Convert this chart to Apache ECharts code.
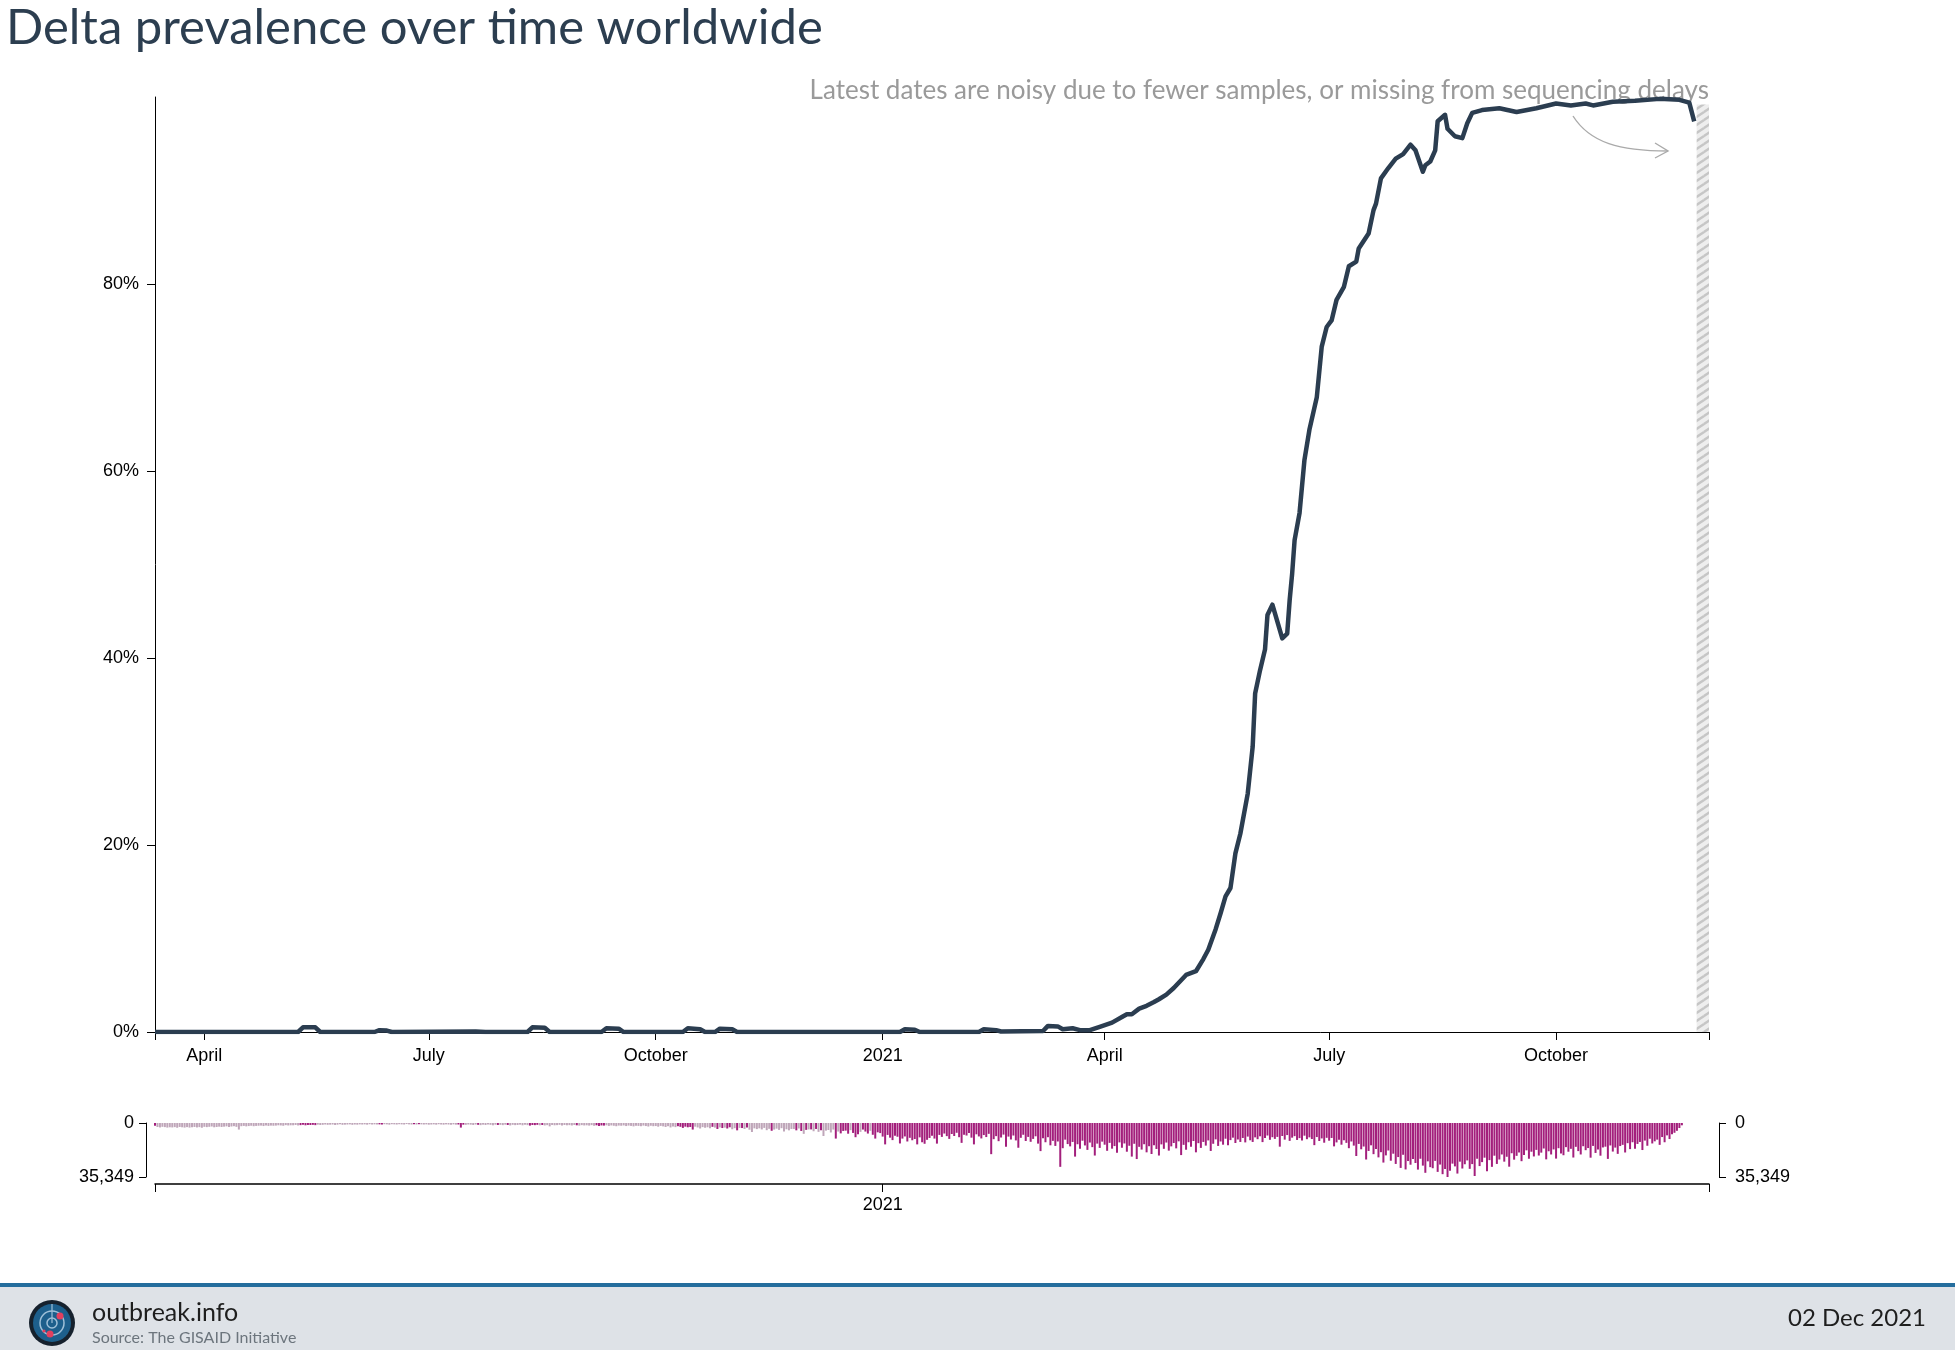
<!DOCTYPE html>
<html>
<head>
<meta charset="utf-8">
<title>Delta prevalence over time worldwide</title>
<script src="https://cdn.jsdelivr.net/npm/echarts@6/dist/echarts.min.js"></script>
<style>
  html, body { margin: 0; padding: 0; background: #fff; }
  #chart { width: 1955px; height: 1350px; }
</style>
</head>
<body>
<div id="chart"></div>
<script>
// axis range and the hatched "latest dates" band
const xStart = '2020-03-12';
const xEnd = '2021-12-02';
const noisyFrom = '2021-11-27';

// quarter ticks on the date axes
const tickDates = ['2020-04-01', '2020-07-01', '2020-10-01', '2021-01-01', '2021-04-01', '2021-07-01', '2021-10-01'];
const tickNames = ['April', 'July', 'October', '2021', 'April', 'July', 'October'];
const pctTicks = [0, 20, 40, 60, 80];

// delta prevalence (%)
const prevDates = [
  '2020-03-12', '2020-05-09', '2020-05-11', '2020-05-16', '2020-05-18', '2020-06-09', '2020-06-11', '2020-06-14', '2020-06-16',
  '2020-07-20', '2020-07-24', '2020-08-10', '2020-08-12', '2020-08-17', '2020-08-19', '2020-09-09', '2020-09-11', '2020-09-16',
  '2020-09-18', '2020-10-12', '2020-10-14', '2020-10-19', '2020-10-21', '2020-10-25', '2020-10-27', '2020-11-01', '2020-11-03',
  '2021-01-08', '2021-01-10', '2021-01-14', '2021-01-16', '2021-02-09', '2021-02-11', '2021-02-16', '2021-02-18', '2021-03-07',
  '2021-03-09', '2021-03-13', '2021-03-15', '2021-03-19', '2021-03-22', '2021-03-26', '2021-03-30', '2021-04-04', '2021-04-08',
  '2021-04-10', '2021-04-12', '2021-04-15', '2021-04-18', '2021-04-21', '2021-04-23', '2021-04-26', '2021-04-29', '2021-05-04',
  '2021-05-08', '2021-05-11', '2021-05-13', '2021-05-16', '2021-05-18', '2021-05-20', '2021-05-22', '2021-05-24', '2021-05-26',
  '2021-05-29', '2021-05-31', '2021-06-01', '2021-06-03', '2021-06-05', '2021-06-06', '2021-06-08', '2021-06-12', '2021-06-14',
  '2021-06-15', '2021-06-16', '2021-06-17', '2021-06-19', '2021-06-21', '2021-06-23', '2021-06-26', '2021-06-28', '2021-06-30',
  '2021-07-02', '2021-07-04', '2021-07-07', '2021-07-09', '2021-07-12', '2021-07-13', '2021-07-17', '2021-07-19', '2021-07-20',
  '2021-07-22', '2021-07-25', '2021-07-28', '2021-07-31', '2021-08-03', '2021-08-05', '2021-08-08', '2021-08-09', '2021-08-11',
  '2021-08-13', '2021-08-14', '2021-08-17', '2021-08-18', '2021-08-21', '2021-08-24', '2021-08-26', '2021-08-28', '2021-09-01',
  '2021-09-08', '2021-09-15', '2021-09-23', '2021-10-01', '2021-10-07', '2021-10-13', '2021-10-16', '2021-10-24', '2021-11-02',
  '2021-11-12', '2021-11-20', '2021-11-24', '2021-11-26'
];
const prevValues = [
  0, 0, 0.5, 0.5, 0, 0, 0.2, 0.15, 0,
  0.05, 0, 0, 0.5, 0.45, 0, 0, 0.4, 0.35,
  0, 0, 0.4, 0.3, 0, 0, 0.35, 0.3, 0,
  0, 0.3, 0.25, 0, 0, 0.3, 0.2, 0.05, 0.1,
  0.65, 0.6, 0.3, 0.4, 0.2, 0.2, 0.55, 1.0, 1.6,
  1.9, 1.9, 2.5, 2.8, 3.2, 3.5, 4.0, 4.7, 6.1,
  6.5, 7.8, 8.8, 11.0, 12.7, 14.5, 15.4, 19.1, 21.2,
  25.5, 30.5, 36.2, 38.7, 40.9, 44.6, 45.7, 42.1, 42.6,
  46.2, 49.0, 52.6, 55.5, 61.2, 64.4, 67.9, 73.3, 75.4,
  76.1, 78.3, 79.7, 81.9, 82.4, 83.8, 85.4, 87.9, 88.6,
  91.3, 92.4, 93.4, 93.9, 94.9, 94.3, 92.0, 92.7, 93.1,
  94.3, 97.4, 98.1, 96.6, 95.8, 95.6, 97.2, 98.3, 98.6,
  98.8, 98.4, 98.8, 99.3, 99.1, 99.3, 99.1, 99.5, 99.6,
  99.8, 99.7, 99.4, 97.4
];

// sequences per day, one value per day from countStart
const countStart = '2020-03-12';
const countMax = 35349;
const dailyCounts = [
  1800, 2600, 2900, 2500, 2700, 3000, 2800,
  2900, 2700, 3100, 2600, 2800, 3000, 2700,
  3000, 2800, 2600, 2900, 2700, 3100, 2500,
  2700, 2500, 2300, 2800, 2600, 2400, 2600,
  2400, 2200, 2600, 2300, 2100, 2500, 4300,
  2100, 1900, 2200, 2000, 1800, 2100, 1900,
  1800, 1700, 2000, 1600, 1900, 1700, 1800,
  1700, 1500, 1600, 1800, 1400, 1600, 1500,
  1500, 1300, 1600, 1400, 1200, 1500, 1300,
  1300, 1200, 1400, 1100, 1300, 1200, 1000,
  1200, 1100, 1000, 1300, 1100, 900, 1200,
  1100, 1000, 900, 1200, 1000, 1100, 900,
  1000, 900, 1100, 800, 1000, 900, 1000,
  900, 1000, 800, 900, 1100, 800, 900,
  1000, 800, 900, 1000, 700, 900, 1000,
  900, 1000, 800, 900, 1000, 900, 1100,
  1000, 900, 1100, 800, 1000, 1100, 900,
  1000, 1200, 900, 1100, 1000, 3000, 1100,
  1200, 1000, 1100, 1300, 1000, 1200, 1400,
  1100, 1300, 1000, 1200, 1500, 1100, 1300,
  1200, 1400, 1100, 1300, 1600, 1200, 1400,
  1300, 1100, 1500, 1200, 1400, 1700, 1300,
  1400, 1200, 1500, 1300, 1600, 1400, 2200,
  1300, 1500, 1400, 1200, 1600, 1300, 1500,
  1400, 1600, 1300, 1500, 1700, 1400, 1600,
  1500, 1700, 1400, 1800, 1500, 2000, 1600,
  1700, 1500, 1900, 1600, 1800, 2100, 1700,
  1800, 1600, 2000, 1700, 1900, 2200, 1800,
  1900, 2100, 1700, 2000, 2300, 1800, 2100,
  2000, 2400, 1900, 2200, 2600, 2100, 2900,
  2300, 2700, 2100, 2500, 3200, 2400, 2800,
  2600, 4300, 2400, 2900, 3600, 2700, 3100,
  2800, 3400, 2500, 3000, 3900, 2900, 3300,
  3000, 3600, 2800, 4100, 3400, 4800, 3200,
  3300, 3900, 3000, 4400, 5900, 3500, 4000,
  3500, 4200, 3200, 4700, 3800, 5100, 4300,
  3700, 4500, 3400, 5500, 4100, 4800, 3900,
  3900, 4800, 3600, 5200, 7100, 4500, 4200,
  4200, 5400, 3900, 5800, 4700, 8500, 5000,
  4600, 6200, 4300, 10200, 5600, 6800, 5200,
  5000, 7000, 4700, 6500, 9300, 7400, 5800,
  4300, 5600, 6900, 5100, 7700, 10200, 6100,
  6600, 8900, 14000, 7800, 9600, 11200, 8300,
  9000, 13400, 10200, 8800, 12100, 9700, 11300,
  10500, 14000, 9400, 12600, 13600, 11000, 9800,
  8400, 10200, 13500, 7800, 9100, 6900, 8600,
  10400, 7200, 8500, 6400, 9300, 13000, 7700,
  8200, 6500, 9600, 14000, 7400, 8800, 10100,
  7900, 9200, 7100, 20400, 10600, 8600, 11900,
  9500, 7600, 15500, 8900, 10800, 8200, 11400,
  16200, 9700, 7700, 11800, 9100, 12300, 10400,
  8700, 13500, 18400, 10000, 12600, 9300, 14600,
  11700, 15000, 12100, 28700, 16500, 10900, 13800,
  15300, 12400, 22000, 13900, 16900, 11600, 14700,
  17600, 12800, 15800, 21300, 13500, 16300, 12200,
  14200, 18200, 13000, 16800, 15100, 19400, 12700,
  16200, 13400, 18800, 14900, 22000, 13600, 23600,
  15600, 17400, 13900, 19200, 15200, 20300, 14500,
  17000, 21300, 14000, 16900, 12800, 18100, 15300,
  13100, 16600, 12000, 21000, 14300, 17500, 12600,
  15500, 11800, 19200, 13200, 16300, 12400, 14800,
  11400, 18300, 13600, 10700, 15000, 12100, 14200,
  10300, 14500, 11200, 9600, 13100, 10800, 12400,
  9800, 12700, 8900, 11300, 12400, 9400, 10600,
  8700, 12500, 9800, 8200, 11000, 9300, 10400,
  9100, 15500, 8500, 10900, 7900, 11700, 9600,
  8600, 11100, 9900, 11400, 8300, 10600, 9400,
  10500, 14500, 9200, 11800, 10100, 12900, 9700,
  11600, 9800, 15300, 12700, 10900, 14200, 11300,
  13000, 16500, 12100, 14800, 21600, 13700, 17200,
  15400, 23900, 18300, 14600, 20400, 17100, 22500,
  19100, 25900, 21200, 18000, 24700, 20100, 26800,
  22300, 29400, 20800, 30400, 24900, 27300, 23600,
  26200, 30500, 23400, 27900, 32600, 25100, 28900,
  29600, 24800, 32000, 27200, 33500, 30100, 35349,
  31200, 26600, 28400, 33100, 25300, 29800, 27000,
  24500, 30000, 26900, 34700, 23400, 28200, 25600,
  22700, 31600, 24300, 28700, 21400, 26800, 23900,
  20600, 25300, 22100, 28600, 19800, 24000, 21500,
  19300, 25000, 20900, 17900, 23400, 18800, 21900,
  17600, 21300, 19400, 16700, 23800, 18500, 20600,
  17300, 23300, 16500, 19900, 21100, 15800, 18800,
  16900, 22600, 15600, 18400, 20600, 15200, 17800,
  16400, 22700, 15000, 19600, 17300, 21400, 16000,
  15500, 23500, 14700, 18700, 16100, 20200, 15100,
  14300, 19300, 13200, 17100, 12600, 16800, 13700,
  12400, 17700, 11500, 14900, 10300, 13400, 12000,
  10900, 14300, 9200, 12600, 8100, 10500, 7300,
  6400, 5100, 3300, 1500
];
// day indexes (into dailyCounts) drawn in magenta before every day is
const detectedDays = [0, 59, 60, 61, 62, 63, 64, 65, 91, 92, 105, 107, 123, 124, 125, 131, 139, 143, 152, 153, 154,
  155, 157, 171, 179, 180, 181, 182, 212, 213, 214, 215, 216, 217, 218, 226, 228, 230, 232, 233, 236, 238, 240,
  250, 260, 262, 264, 266, 268, 270, 276, 278, 279, 280, 281, 283, 284, 285, 287, 288, 289];
const detectedEveryDayFrom = 291;

// local-time timestamp from 'YYYY-MM-DD'
function ts(s) {
  const p = s.split('-');
  return new Date(+p[0], +p[1] - 1, +p[2]).getTime();
}

const tickTs = tickDates.map(ts);
const tickLabel = {};
tickTs.forEach((t, i) => { tickLabel[t] = tickNames[i]; });

const lineData = prevDates.map((d, i) => [ts(d), prevValues[i]]);

const startDay = new Date(ts(countStart));
const barData = dailyCounts.map((v, i) => {
  const d = new Date(startDay.getFullYear(), startDay.getMonth(), startDay.getDate() + i);
  const on = i >= detectedEveryDayFrom || detectedDays.indexOf(i) >= 0;
  return { value: [d.getTime(), v], itemStyle: { color: on ? '#a31f7c' : '#bfa6b9' } };
});

// diagonal hatch for the noisy band
const hatch = document.createElement('canvas');
hatch.width = 12;
hatch.height = 8;
const hc = hatch.getContext('2d');
hc.fillStyle = '#eeeeee';
hc.fillRect(0, 0, 12, 8);
hc.strokeStyle = '#c6c6c6';
hc.lineWidth = 2.4;
hc.beginPath();
[-12, 0, 12].forEach(dx => {
  [-8, 0, 8].forEach(dy => {
    hc.moveTo(dx, dy + 8);
    hc.lineTo(dx + 12, dy);
  });
});
hc.stroke();

const tickFont = { fontFamily: 'Liberation Sans, Arial, sans-serif', fontSize: 18, color: '#000' };
const black = { color: '#000', width: 1 };

const chart = echarts.init(document.getElementById('chart'));
chart.setOption({
  animation: false,
  backgroundColor: '#fff',
  grid: [
    { left: 155, right: 246, top: 97, bottom: 318 },
    { left: 155, right: 246, top: 1123, height: 54 }
  ],
  xAxis: [
    {
      type: 'value', gridIndex: 0, min: ts(xStart), max: ts(xEnd), scale: true,
      axisLine: { show: true, onZero: false, lineStyle: black },
      axisTick: { show: true, length: 8, lineStyle: black, customValues: [ts(xStart)].concat(tickTs, [ts(xEnd)]) },
      axisLabel: Object.assign({ margin: 15, customValues: tickTs, formatter: v => tickLabel[Math.round(v)] || '' }, tickFont),
      splitLine: { show: false }
    },
    {
      type: 'value', gridIndex: 1, min: ts(xStart), max: ts(xEnd), scale: true, offset: 7,
      axisLine: { show: true, onZero: false, lineStyle: { color: '#000', width: 1.5 } },
      axisTick: { show: true, length: 8, lineStyle: black, customValues: [ts(xStart), ts('2021-01-01'), ts(xEnd)] },
      axisLabel: Object.assign({ margin: 12, customValues: [ts('2021-01-01')], formatter: () => '2021' }, tickFont),
      splitLine: { show: false }
    }
  ],
  yAxis: [
    {
      type: 'value', gridIndex: 0, min: 0, max: 100,
      axisLine: { show: true, onZero: false, lineStyle: black },
      axisTick: { show: true, length: 8, lineStyle: black, customValues: pctTicks },
      axisLabel: Object.assign({ margin: 16, customValues: pctTicks, formatter: v => v + '%' }, tickFont),
      splitLine: { show: false }
    },
    {
      type: 'value', gridIndex: 1, min: 0, max: countMax, inverse: true, position: 'left', offset: 9,
      axisLine: { show: true, onZero: false, lineStyle: black },
      axisTick: { show: true, length: 7, lineStyle: black, customValues: [0, countMax] },
      axisLabel: Object.assign({ margin: 12, customValues: [0, countMax], formatter: v => v.toLocaleString('en-US') }, tickFont),
      splitLine: { show: false }
    },
    {
      type: 'value', gridIndex: 1, min: 0, max: countMax, inverse: true, position: 'right', offset: 10,
      axisLine: { show: true, onZero: false, lineStyle: black },
      axisTick: { show: true, length: 7, lineStyle: black, customValues: [0, countMax] },
      axisLabel: Object.assign({ margin: 16, customValues: [0, countMax], formatter: v => v.toLocaleString('en-US') }, tickFont),
      splitLine: { show: false }
    }
  ],
  series: [
    {
      type: 'line', xAxisIndex: 0, yAxisIndex: 0,
      data: lineData,
      showSymbol: false,
      lineStyle: { color: '#2b3d50', width: 4.5, join: 'round' },
      z: 5,
      markArea: {
        silent: true,
        itemStyle: { color: { image: hatch, repeat: 'repeat' } },
        data: [[{ xAxis: ts(noisyFrom), yAxis: 0 }, { xAxis: ts(xEnd), yAxis: 99.2 }]]
      }
    },
    {
      type: 'bar', xAxisIndex: 1, yAxisIndex: 1,
      data: barData,
      barWidth: 2
    }
  ],
  graphic: [
    { type: 'text', style: { x: 6, y: 28, text: 'Delta prevalence over time worldwide', fontFamily: 'Lato', fontSize: 49, fill: '#2c3e50', verticalAlign: 'middle', textVerticalAlign: 'middle' } },
    { type: 'text', style: { x: 1709, y: 91, text: 'Latest dates are noisy due to fewer samples, or missing from sequencing delays', fontFamily: 'Lato', fontSize: 26, fill: '#9a9a9a', align: 'right', textAlign: 'right', verticalAlign: 'middle', textVerticalAlign: 'middle' } },
    { type: 'bezierCurve', shape: { x1: 1573, y1: 116, cpx1: 1590, cpy1: 143, cpx2: 1620, cpy2: 151, x2: 1668, y2: 151 }, style: { stroke: '#aaaaaa', lineWidth: 1.4, fill: 'none' } },
    { type: 'polyline', shape: { points: [[1655, 143], [1668, 151], [1655, 158]] }, style: { stroke: '#aaaaaa', lineWidth: 1.4, fill: 'none' } },
    // footer
    { type: 'rect', shape: { x: 0, y: 1286, width: 1955, height: 64 }, style: { fill: '#dee2e7' } },
    { type: 'rect', shape: { x: 0, y: 1283, width: 1955, height: 4 }, style: { fill: '#246d9d' } },
    { type: 'circle', shape: { cx: 52, cy: 1323, r: 23 }, style: { fill: '#16212d' } },
    { type: 'circle', shape: { cx: 52, cy: 1323, r: 19 }, style: { fill: '#1d5f8c' } },
    { type: 'circle', shape: { cx: 52, cy: 1323, r: 12 }, style: { fill: 'none', stroke: '#9fc0d8', lineWidth: 1.5 } },
    { type: 'circle', shape: { cx: 52, cy: 1323, r: 5 }, style: { fill: 'none', stroke: '#9fc0d8', lineWidth: 1.5 } },
    { type: 'line', shape: { x1: 52, y1: 1323, x2: 52, y2: 1304 }, style: { stroke: '#9fc0d8', lineWidth: 1.2 } },
    { type: 'circle', shape: { cx: 60, cy: 1316, r: 3.5 }, style: { fill: '#e2405f' } },
    { type: 'circle', shape: { cx: 50, cy: 1334, r: 3.5 }, style: { fill: '#e2405f' } },
    { type: 'circle', shape: { cx: 44, cy: 1331, r: 1.6 }, style: { fill: '#e2405f' } },
    { type: 'text', style: { x: 92, y: 1313, text: 'outbreak.info', fontFamily: 'Lato', fontSize: 25, fill: '#1e1e1e', verticalAlign: 'middle', textVerticalAlign: 'middle' } },
    { type: 'text', style: { x: 92, y: 1338, text: 'Source: The GISAID Initiative', fontFamily: 'Lato', fontSize: 16, fill: '#6c757d', verticalAlign: 'middle', textVerticalAlign: 'middle' } },
    { type: 'text', style: { x: 1926, y: 1318, text: '02 Dec 2021', fontFamily: 'Lato', fontSize: 24, fill: '#1e1e1e', align: 'right', textAlign: 'right', verticalAlign: 'middle', textVerticalAlign: 'middle' } }
  ]
});
</script>
</body>
</html>
